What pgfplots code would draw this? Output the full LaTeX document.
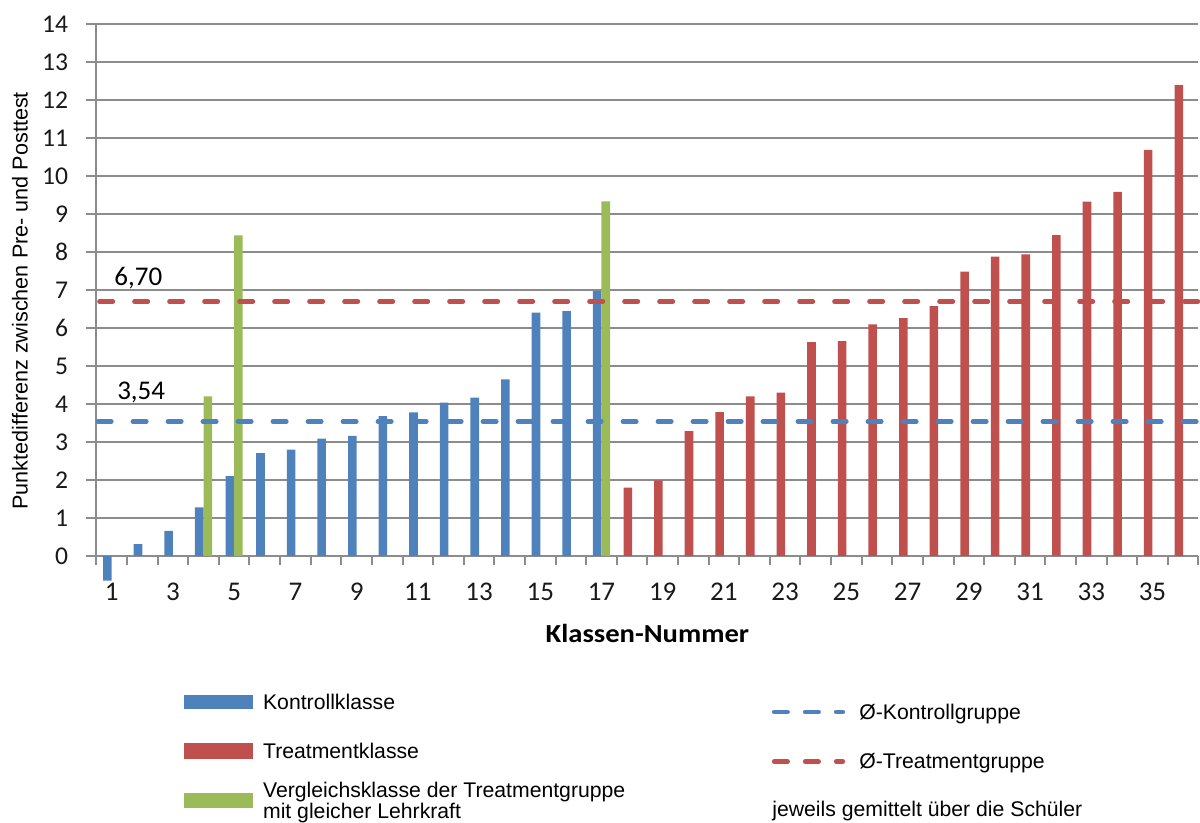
\documentclass[border=0pt]{standalone}
\usepackage{pgfplots}
\pgfplotsset{compat=1.18}
\usepackage{fontspec}
\setmainfont{Carlito}
\newfontfamily\arial{Liberation Sans}

\definecolor{kblue}{HTML}{4F81BD}
\definecolor{tred}{HTML}{C0504D}
\definecolor{vgreen}{HTML}{9BBB59}
\definecolor{gridgray}{HTML}{8C8C8C}

\begin{document}
\begin{tikzpicture}
\path[use as bounding box] (-48.2pt,-133.5pt) rectangle (551.8pt,278pt);
\begin{axis}[
    name=ax, at={(0,0)}, anchor=south west,
    scale only axis, width=551pt, height=265.85pt,
    xmin=0.5, xmax=36.5, ymin=0, ymax=14,
    clip=false,
    axis x line*=bottom, axis y line*=left,
    axis line style={gridgray, line width=1pt},
    ytick={0,...,14},
    ymajorgrids, grid style={gridgray, line width=1pt},
    xtick={1,3,...,35},
    minor xtick={0.5,1.5,...,36.5},
    major x tick style={draw=none},
    minor x tick style={gridgray, line width=1pt},
    y tick style={gridgray, line width=1pt},
    tick align=outside,
    minor tick length=4.5pt,
    major tick length=5pt,
    /pgf/number format/assume math mode=true,
    ticklabel style={text=black!90},
    yticklabel style={anchor=east, inner sep=0pt, xshift=-9pt,
        font=\fontsize{12.8}{14}\selectfont},
    xticklabel style={anchor=north, inner sep=0pt, yshift=-8.5pt,
        font=\fontsize{13.5}{15}\selectfont},
    xlabel={\bfseries Klassen-Nummer},
    xlabel style={at={(axis description cs:0.5,0)}, anchor=base, yshift=-43.5pt,
        xscale=1.1, font=\fontsize{13}{15}\selectfont},
    ylabel={Punktedifferenz zwischen Pre- und Posttest},
    ylabel style={at={(axis description cs:-0.0623,0.48)}, anchor=base, rotate=0,
        font=\arial\fontsize{10.8}{13}\selectfont},
]
% Kontrollklassen
\addplot[ybar, bar width=0.28, bar shift=-0.14, fill=kblue, draw=none] coordinates {
    (1,-0.65) (2,0.31) (3,0.66) (4,1.28) (5,2.10) (6,2.71) (7,2.80) (8,3.09)
    (9,3.16) (10,3.68) (11,3.78) (12,4.04) (13,4.17) (14,4.65) (15,6.41)
    (16,6.45) (17,6.98)
};
% Treatmentklassen
\addplot[ybar, bar width=0.28, bar shift=-0.14, fill=tred, draw=none] coordinates {
    (18,1.80) (19,1.99) (20,3.29) (21,3.79) (22,4.20) (23,4.30) (24,5.63)
    (25,5.66) (26,6.10) (27,6.26) (28,6.58) (29,7.49) (30,7.88) (31,7.94)
    (32,8.45) (33,9.33) (34,9.59) (35,10.69) (36,12.40)
};
% Vergleichsklassen
\addplot[ybar, bar width=0.28, bar shift=0.14, fill=vgreen, draw=none] coordinates {
    (4,4.20) (5,8.44) (17,9.34)
};
% Mittelwerte
\addplot[kblue, line width=2.3pt, line cap=round, dash pattern=on 6.7pt off 10.8pt]
    coordinates {(0.55,3.54) (36.5,3.54)};
\addplot[tred, line width=2.3pt, line cap=round, dash pattern=on 6.7pt off 10.8pt]
    coordinates {(0.6,6.70) (36.5,6.70)};
\node[anchor=base west, inner sep=0pt, font=\fontsize{13.5}{15}\selectfont] at (axis cs:1.075,7.11) {6,70};
\node[anchor=base west, inner sep=0pt, font=\fontsize{13.5}{15}\selectfont] at (axis cs:1.17,4.11) {3,54};
\end{axis}

% Legende
\begin{scope}[font=\arial\fontsize{10.6}{12}\selectfont]
\fill[kblue] (43.8pt,-69.5pt) rectangle (78.3pt,-76.5pt);
\fill[tred] (43.8pt,-93.5pt) rectangle (78.3pt,-101.5pt);
\fill[vgreen] (43.8pt,-118.5pt) rectangle (78.3pt,-126pt);
\node[anchor=base west, inner sep=0pt] at (83.15pt,-77pt) {Kontrollklasse};
\node[anchor=base west, inner sep=0pt] at (83.15pt,-101.5pt) {Treatmentklasse};
\node[anchor=base west, inner sep=0pt] at (83.15pt,-120.6pt) {Vergleichsklasse der Treatmentgruppe};
\node[anchor=base west, inner sep=0pt] at (83.15pt,-131.1pt) {mit gleicher Lehrkraft};
\draw[kblue, line width=2.3pt, line cap=round, dash pattern=on 6.7pt off 8.8pt]
    (338.9pt,-78pt) -- (373.2pt,-78pt);
\draw[tred, line width=2.3pt, line cap=round, dash pattern=on 6.7pt off 8.8pt]
    (338.9pt,-102.85pt) -- (373.2pt,-102.85pt);
\node[anchor=base west, inner sep=0pt] at (381.3pt,-82pt) {Ø-Kontrollgruppe};
\node[anchor=base west, inner sep=0pt] at (381.3pt,-106.5pt) {Ø-Treatmentgruppe};
\node[anchor=base west, inner sep=0pt] at (337.8pt,-130.35pt) {jeweils gemittelt über die Schüler};
\end{scope}
\end{tikzpicture}
\end{document}
